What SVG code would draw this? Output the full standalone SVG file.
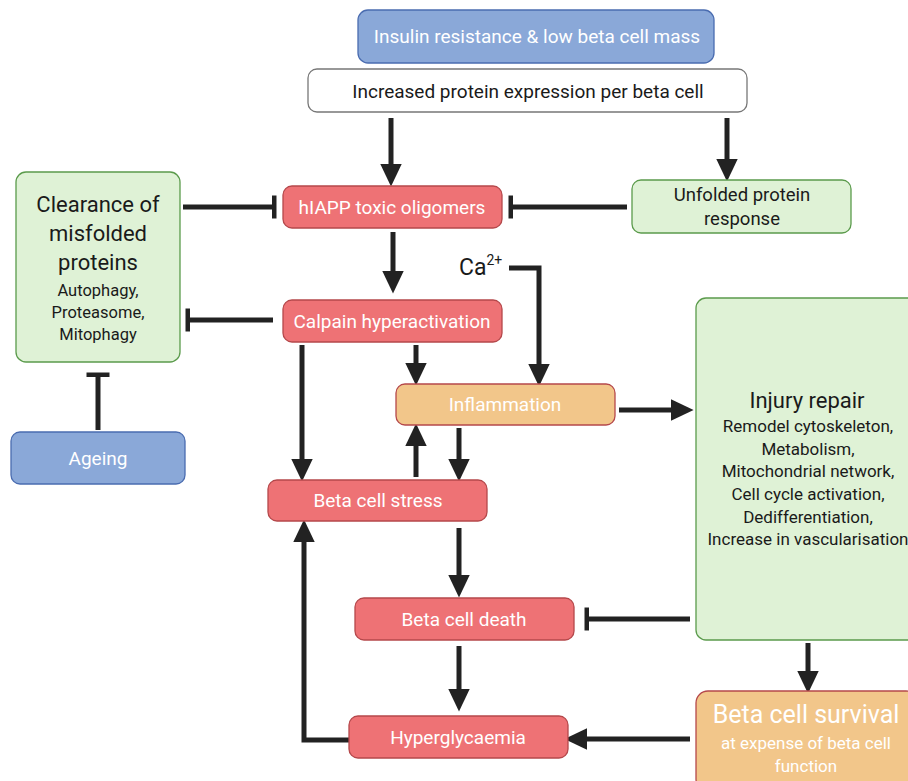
<svg xmlns="http://www.w3.org/2000/svg" width="908" height="781" viewBox="0 0 908 781">
<defs>
<style>
.t{font-family:Roboto,"Liberation Sans",sans-serif;text-anchor:middle}
.w{fill:#ffffff}
.k{fill:#1a1a1a}
.red{fill:#ee7275;stroke:#b5484b;stroke-width:1.3}
.blue{fill:#8aa8d8;stroke:#4a6cb0;stroke-width:1.3}
.green{fill:#dff2d6;stroke:#5b9b4c;stroke-width:1.3}
.orange{fill:#f2c68a;stroke:#b5484b;stroke-width:1.3}
.white{fill:#ffffff;stroke:#777777;stroke-width:1.3}
.c{fill:none;stroke:#222222;stroke-width:5}
.a{marker-end:url(#arr)}
.i{marker-end:url(#inh)}
</style>
<marker id="arr" markerUnits="userSpaceOnUse" markerWidth="24" markerHeight="24" viewBox="0 0 20 20" refX="6" refY="10" orient="auto">
<path d="M0,1 L19,10 L0,19 z" fill="#222222"/>
</marker>
<marker id="inh" markerUnits="userSpaceOnUse" markerWidth="10" markerHeight="26" viewBox="0 0 10 26" refX="2" refY="13" orient="auto">
<path d="M2,1.5 L2,24.5" stroke="#222222" stroke-width="5"/>
</marker>
</defs>
<rect width="908" height="781" fill="#ffffff"/>

<g id="connectors">
<path class="c a" d="M391,118 L391,171"/>
<path class="c a" d="M727,118 L727,166"/>
<path class="c i" d="M627,207 L511,207"/>
<path class="c i" d="M183,207 L274,207"/>
<path class="c a" d="M393,232 L393,278"/>
<path class="c i" d="M273,320 L188,320"/>
<path class="c i" d="M98,430 L98,375"/>
<path class="c a" d="M509,268 L539,268 L539,371"/>
<path class="c a" d="M302,345 L302,466"/>
<path class="c a" d="M416,345 L416,370"/>
<path class="c a" d="M459,428 L459,466"/>
<path class="c a" d="M416,477 L416,439"/>
<path class="c a" d="M619,410 L678,410"/>
<path class="c a" d="M459,528 L459,582"/>
<path class="c a" d="M459,646 L459,696"/>
<path class="c i" d="M690,619 L587,619"/>
<path class="c a" d="M808,643 L808,678"/>
<path class="c a" d="M690,739 L580,739"/>
<path class="c a" d="M349,740 L304,740 L304,535"/>
</g>

<g id="insulin">
<rect class="blue" x="358" y="10" width="356" height="53" rx="10"/>
<text class="t w" x="537" y="43" font-size="19">Insulin resistance &amp; low beta cell mass</text>
</g>
<g id="increased">
<rect class="white" x="308" y="69" width="439" height="43" rx="9"/>
<text class="t k" x="528" y="98" font-size="19">Increased protein expression per beta cell</text>
</g>
<g id="hiapp">
<rect class="red" x="283" y="186" width="219" height="42" rx="9"/>
<text class="t w" x="392" y="214" font-size="19">hIAPP toxic oligomers</text>
</g>
<g id="upr">
<rect class="green" x="632" y="180" width="219" height="53" rx="9"/>
<text class="t k" x="742" y="201" font-size="18.5">Unfolded protein</text>
<text class="t k" x="742" y="225" font-size="18.5">response</text>
</g>
<g id="clearance">
<rect class="green" x="16" y="172" width="164" height="190" rx="10"/>
<text class="t k" x="98" y="212" font-size="22">Clearance of</text>
<text class="t k" x="98" y="241" font-size="22">misfolded</text>
<text class="t k" x="98" y="270" font-size="22">proteins</text>
<text class="t k" x="98" y="296" font-size="16.5">Autophagy,</text>
<text class="t k" x="98" y="318" font-size="16.5">Proteasome,</text>
<text class="t k" x="98" y="340" font-size="16.5">Mitophagy</text>
</g>
<g id="ca">
<text x="459" y="275" font-family="Roboto,'Liberation Sans',sans-serif" font-size="23" fill="#1a1a1a">Ca<tspan font-size="14" dy="-10">2+</tspan></text>
</g>
<g id="calpain">
<rect class="red" x="283" y="300" width="219" height="42" rx="9"/>
<text class="t w" x="392" y="328" font-size="19">Calpain hyperactivation</text>
</g>
<g id="inflammation">
<rect class="orange" x="396" y="384" width="219" height="41" rx="9"/>
<text class="t w" x="505" y="411" font-size="19">Inflammation</text>
</g>
<g id="injury">
<rect class="green" x="696" y="298" width="222" height="342" rx="10"/>
<text class="t k" x="807" y="408" font-size="22">Injury repair</text>
<text class="t k" x="808" y="432" font-size="17">Remodel cytoskeleton,</text>
<text class="t k" x="808" y="455" font-size="17">Metabolism,</text>
<text class="t k" x="808" y="477" font-size="17">Mitochondrial network,</text>
<text class="t k" x="808" y="500" font-size="17">Cell cycle activation,</text>
<text class="t k" x="808" y="523" font-size="17">Dedifferentiation,</text>
<text class="t k" x="808" y="545" font-size="17">Increase in vascularisation</text>
</g>
<g id="ageing">
<rect class="blue" x="11" y="432" width="174" height="52" rx="9"/>
<text class="t w" x="98" y="465" font-size="19">Ageing</text>
</g>
<g id="stress">
<rect class="red" x="268" y="480" width="219" height="41" rx="9"/>
<text class="t w" x="378" y="507" font-size="19">Beta cell stress</text>
</g>
<g id="death">
<rect class="red" x="355" y="598" width="219" height="42" rx="9"/>
<text class="t w" x="464" y="626" font-size="19">Beta cell death</text>
</g>
<g id="hyper">
<rect class="red" x="349" y="716" width="219" height="42" rx="9"/>
<text class="t w" x="458" y="744" font-size="19">Hyperglycaemia</text>
</g>
<g id="survival">
<rect class="orange" x="696" y="691" width="222" height="100" rx="12"/>
<text class="t w" x="806" y="723" font-size="25">Beta cell survival</text>
<text class="t w" x="806" y="749" font-size="17">at expense of beta cell</text>
<text class="t w" x="806" y="772" font-size="17">function</text>
</g>
</svg>
